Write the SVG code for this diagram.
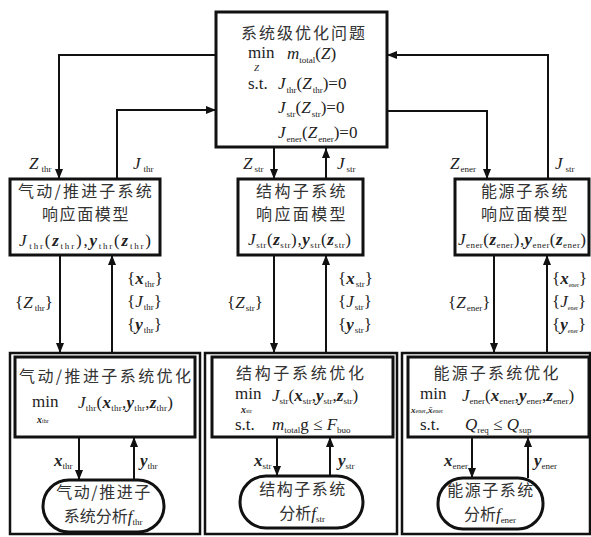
<svg xmlns="http://www.w3.org/2000/svg" width="591" height="537" viewBox="0 0 591 537">
<defs>
<marker id="ah" markerWidth="10" markerHeight="8" refX="10" refY="4" orient="auto" markerUnits="userSpaceOnUse"><path d="M0,0 L10,4 L0,8 Z" fill="#111"/></marker>
<style>
.box{fill:#fff;stroke:#111;stroke-width:3}
.frame{fill:none;stroke:#111;stroke-width:2.5}
.line{fill:none;stroke:#111;stroke-width:2}
.cn{font-family:"Noto Sans CJK SC",sans-serif;font-size:16px;fill:#333}
.m{font-family:"Liberation Serif",serif;font-size:17px;fill:#222}
.i{font-style:italic}
.b{font-weight:bold;font-style:italic}
.s{font-size:9px;font-style:normal;font-weight:normal}
.t{font-size:6px;font-style:normal;font-weight:normal}
</style>
</defs>
<rect x="0" y="0" width="591" height="537" fill="#fff"/>

<g id="frames">
<rect class="frame" x="10" y="353" width="190" height="181"/>
<rect class="frame" x="205" y="353" width="192" height="181"/>
<rect class="frame" x="402" y="353" width="188" height="181"/>
</g>

<g id="connectors">
<polyline class="line" points="216,55 59,55 59,179" marker-end="url(#ah)"/>
<polyline class="line" points="117,179 117,110 216,110" marker-end="url(#ah)"/>
<line class="line" x1="274" y1="148" x2="274" y2="179" marker-end="url(#ah)"/>
<line class="line" x1="326" y1="179" x2="326" y2="148" marker-end="url(#ah)"/>
<polyline class="line" points="387,111 487,111 487,179" marker-end="url(#ah)"/>
<polyline class="line" points="548,179 548,55 387,55" marker-end="url(#ah)"/>
<line class="line" x1="60" y1="255" x2="60" y2="353" marker-end="url(#ah)"/>
<line class="line" x1="112" y1="353" x2="112" y2="255" marker-end="url(#ah)"/>
<line class="line" x1="274" y1="255" x2="274" y2="353" marker-end="url(#ah)"/>
<line class="line" x1="326" y1="353" x2="326" y2="255" marker-end="url(#ah)"/>
<line class="line" x1="494" y1="255" x2="494" y2="353" marker-end="url(#ah)"/>
<line class="line" x1="547" y1="353" x2="547" y2="255" marker-end="url(#ah)"/>
<line class="line" x1="79" y1="437" x2="79" y2="480" marker-end="url(#ah)"/>
<line class="line" x1="134" y1="480" x2="134" y2="437" marker-end="url(#ah)"/>
<line class="line" x1="277" y1="437" x2="277" y2="476" marker-end="url(#ah)"/>
<line class="line" x1="330" y1="476" x2="330" y2="437" marker-end="url(#ah)"/>
<line class="line" x1="472" y1="437" x2="472" y2="478" marker-end="url(#ah)"/>
<line class="line" x1="528" y1="478" x2="528" y2="437" marker-end="url(#ah)"/>
</g>

<g id="labels">
<text class="m" x="29" y="169" font-size="16"><tspan class="i">Z</tspan><tspan class="s" dx="3" dy="3">thr</tspan></text>
<text class="m" x="133" y="169" font-size="16"><tspan class="i">J</tspan><tspan class="s" dx="3" dy="3">thr</tspan></text>
<text class="m" x="243" y="169" font-size="16"><tspan class="i">Z</tspan><tspan class="s" dx="2" dy="3">str</tspan></text>
<text class="m" x="337" y="169" font-size="16"><tspan class="i">J</tspan><tspan class="s" dx="2" dy="3">str</tspan></text>
<text class="m" x="450" y="169" font-size="16"><tspan class="i">Z</tspan><tspan class="s" dx="1" dy="3">ener</tspan></text>
<text class="m" x="555" y="169" font-size="16"><tspan class="i">J</tspan><tspan class="s" dx="3" dy="3">str</tspan></text>

<text class="m" x="15" y="308" font-size="16">{<tspan class="i">Z</tspan><tspan class="s" dx="2" dy="3">thr</tspan><tspan dy="-3">}</tspan></text>
<text class="m" x="127" y="284" font-size="16">{<tspan class="b">x</tspan><tspan class="s" dx="1" dy="3">thr</tspan><tspan dy="-3">}</tspan></text>
<text class="m" x="127" y="307" font-size="16">{<tspan class="i">J</tspan><tspan class="s" dx="1" dy="3">thr</tspan><tspan dy="-3">}</tspan></text>
<text class="m" x="127" y="330" font-size="16">{<tspan class="b">y</tspan><tspan class="s" dx="1" dy="3">thr</tspan><tspan dy="-3">}</tspan></text>

<text class="m" x="227" y="308" font-size="16">{<tspan class="i">Z</tspan><tspan class="s" dx="1" dy="3">str</tspan><tspan dy="-3">}</tspan></text>
<text class="m" x="338" y="284" font-size="16">{<tspan class="b">x</tspan><tspan class="s" dx="1" dy="3">str</tspan><tspan dy="-3">}</tspan></text>
<text class="m" x="338" y="307" font-size="16">{<tspan class="i">J</tspan><tspan class="s" dx="1" dy="3">str</tspan><tspan dy="-3">}</tspan></text>
<text class="m" x="338" y="330" font-size="16">{<tspan class="b">y</tspan><tspan class="s" dx="1" dy="3">str</tspan><tspan dy="-3">}</tspan></text>

<text class="m" x="448" y="308" font-size="16">{<tspan class="i">Z</tspan><tspan class="s" dx="1" dy="3">ener</tspan><tspan dy="-3">}</tspan></text>
<text class="m" x="552" y="284" font-size="12">{<tspan class="b">x</tspan><tspan class="t" dy="3">ener</tspan><tspan dy="-3">}</tspan></text>
<text class="m" x="552" y="307" font-size="12">{<tspan class="i">J</tspan><tspan class="t" dy="3">ener</tspan><tspan dy="-3">}</tspan></text>
<text class="m" x="552" y="330" font-size="12">{<tspan class="b">y</tspan><tspan class="t" dy="3">ener</tspan><tspan dy="-3">}</tspan></text>

<text class="m" x="54" y="466" font-size="16"><tspan class="b">x</tspan><tspan class="s" dy="3">thr</tspan></text>
<text class="m" x="140" y="466" font-size="16"><tspan class="b">y</tspan><tspan class="s" dy="3">thr</tspan></text>
<text class="m" x="254" y="466" font-size="16"><tspan class="b">x</tspan><tspan class="s" dy="3">str</tspan></text>
<text class="m" x="338" y="466" font-size="16"><tspan class="b">y</tspan><tspan class="s" dy="3">str</tspan></text>
<text class="m" x="444" y="466" font-size="16"><tspan class="b">x</tspan><tspan class="s" dy="3">ener</tspan></text>
<text class="m" x="534" y="466" font-size="16"><tspan class="b">y</tspan><tspan class="s" dy="3">ener</tspan></text>
</g>

<g id="system">
<rect class="box" x="216" y="12" width="171" height="135"/>
<text class="cn" x="303" y="39" text-anchor="middle" font-size="17" textLength="124">系统级优化问题</text>
<text class="m" x="248" y="58">min<tspan class="i" x="254" y="71" font-size="9">Z</tspan><tspan x="287" y="59" class="i">m</tspan><tspan class="s" dy="4">total</tspan><tspan dy="-4">(</tspan><tspan class="i">Z</tspan>)</text>
<text class="m" x="248" y="89">s.t.<tspan x="278" class="i">J</tspan><tspan class="s" dx="1" dy="4">thr</tspan><tspan dy="-4">(</tspan><tspan class="i">Z</tspan><tspan class="s" dx="1" dy="4">thr</tspan><tspan dy="-4">)=0</tspan></text>
<text class="m" x="278" y="113"><tspan class="i">J</tspan><tspan class="s" dx="1" dy="4">str</tspan><tspan dy="-4">(</tspan><tspan class="i">Z</tspan><tspan class="s" dx="1" dy="4">str</tspan><tspan dy="-4">)=0</tspan></text>
<text class="m" x="278" y="138"><tspan class="i">J</tspan><tspan class="s" dx="1" dy="4">ener</tspan><tspan dy="-4">(</tspan><tspan class="i">Z</tspan><tspan class="s" dx="1" dy="4">ener</tspan><tspan dy="-4">)=0</tspan></text>
</g>

<g id="rsm-thr">
<rect class="box" x="10" y="179" width="150" height="76"/>
<text class="cn" text-anchor="middle"><tspan x="86" y="197" letter-spacing="2.2">气动/推进子系统</tspan><tspan x="86" y="220" letter-spacing="1.6">响应面模型</tspan></text>
<text class="m" x="19" y="246" font-size="16" textLength="132" lengthAdjust="spacing"><tspan class="i">J</tspan><tspan class="s" dx="1" dy="3">thr</tspan><tspan dy="-3">(</tspan><tspan class="b">z</tspan><tspan class="s" dy="3">thr</tspan><tspan dy="-3">),</tspan><tspan class="b">y</tspan><tspan class="s" dy="3">thr</tspan><tspan dy="-3">(</tspan><tspan class="b">z</tspan><tspan class="s" dy="3">thr</tspan><tspan dy="-3">)</tspan></text>
</g>

<g id="rsm-str">
<rect class="box" x="238" y="179" width="125" height="76"/>
<text class="cn" text-anchor="middle" letter-spacing="2.4"><tspan x="302" y="197">结构子系统</tspan><tspan x="302" y="220">响应面模型</tspan></text>
<text class="m" x="248" y="245" font-size="16" textLength="103" lengthAdjust="spacing"><tspan class="i">J</tspan><tspan class="s" dy="3">str</tspan><tspan dy="-3">(</tspan><tspan class="b">z</tspan><tspan class="s" dy="3">str</tspan><tspan dy="-3">),</tspan><tspan class="b">y</tspan><tspan class="s" dy="3">str</tspan><tspan dy="-3">(</tspan><tspan class="b">z</tspan><tspan class="s" dy="3">str</tspan><tspan dy="-3">)</tspan></text>
</g>

<g id="rsm-ener">
<rect class="box" x="455" y="179" width="134" height="76"/>
<text class="cn" text-anchor="middle" letter-spacing="1.6"><tspan x="525" y="197">能源子系统</tspan><tspan x="525" y="220">响应面模型</tspan></text>
<text class="m" x="458" y="245" font-size="16" textLength="128" lengthAdjust="spacing"><tspan class="i">J</tspan><tspan class="s" dy="3">ener</tspan><tspan dy="-3">(</tspan><tspan class="b">z</tspan><tspan class="s" dy="3">ener</tspan><tspan dy="-3">),</tspan><tspan class="b">y</tspan><tspan class="s" dy="3">ener</tspan><tspan dy="-3">(</tspan><tspan class="b">z</tspan><tspan class="s" dy="3">ener</tspan><tspan dy="-3">)</tspan></text>
</g>

<g id="opt-thr">
<rect class="box" x="15" y="357" width="180" height="80"/>
<text class="cn" x="105" y="382" text-anchor="middle" font-size="17" textLength="172">气动/推进子系统优化</text>
<text class="m" x="32" y="407">min<tspan x="37" y="423" font-size="10" class="b">x</tspan><tspan class="t">thr</tspan></text>
<text class="m" x="78" y="408" font-size="16" textLength="95" lengthAdjust="spacing"><tspan class="i">J</tspan><tspan class="s" dy="3">thr</tspan><tspan dy="-3">(</tspan><tspan class="b">x</tspan><tspan class="s" dy="3">thr</tspan><tspan dy="-3">,</tspan><tspan class="b">y</tspan><tspan class="s" dy="3">thr</tspan><tspan dy="-3">,</tspan><tspan class="b">z</tspan><tspan class="s" dy="3">thr</tspan><tspan dy="-3">)</tspan></text>
</g>

<g id="opt-str">
<rect class="box" x="212" y="357" width="181" height="80"/>
<text class="cn" x="300" y="379" text-anchor="middle" font-size="17" textLength="128">结构子系统优化</text>
<text class="m" x="235" y="399" font-size="16">min<tspan x="241" y="413" font-size="10" class="b">x</tspan><tspan class="t">str</tspan><tspan x="272" y="401" class="i">J</tspan><tspan class="s" dy="3">str</tspan><tspan dy="-3">(</tspan><tspan class="b">x</tspan><tspan class="s" dy="3">str</tspan><tspan dy="-3">,</tspan><tspan class="b">y</tspan><tspan class="s" dy="3">str</tspan><tspan dy="-3">,</tspan><tspan class="b">z</tspan><tspan class="s" dy="3">str</tspan><tspan dy="-3">)</tspan></text>
<text class="m" x="235" y="430" font-size="16">s.t.<tspan x="272" class="i">m</tspan><tspan class="s" dy="3">total</tspan><tspan dy="-3">g ≤ </tspan><tspan class="i">F</tspan><tspan class="s" dy="3">buo</tspan></text>
</g>

<g id="opt-ener">
<rect class="box" x="408" y="357" width="181" height="80"/>
<text class="cn" x="496" y="379" text-anchor="middle" font-size="17" textLength="125">能源子系统优化</text>
<text class="m" x="420" y="399" font-size="16">min<tspan x="411" y="413" font-size="9" class="b">x</tspan><tspan class="t">ener</tspan><tspan font-size="9">,</tspan><tspan font-size="9" class="b">x̄</tspan><tspan class="t">ener</tspan><tspan x="462" y="401" class="i">J</tspan><tspan class="s" dy="3">ener</tspan><tspan dy="-3">(</tspan><tspan class="b">x</tspan><tspan class="s" dy="3">ener</tspan><tspan dy="-3">,</tspan><tspan class="b">y</tspan><tspan class="s" dy="3">ener</tspan><tspan dy="-3">,</tspan><tspan class="b">z</tspan><tspan class="s" dy="3">ener</tspan><tspan dy="-3">)</tspan></text>
<text class="m" x="420" y="430" font-size="16">s.t.<tspan x="465" class="i">Q</tspan><tspan class="s" dy="3">req</tspan><tspan dy="-3"> ≤ </tspan><tspan class="i">Q</tspan><tspan class="s" dy="3">sup</tspan></text>
</g>

<g id="ana-thr">
<rect class="box" x="43" y="480" width="121" height="52" rx="26" ry="26" stroke-width="2"/>
<text class="cn" text-anchor="middle"><tspan x="104" y="498" letter-spacing="1.5">气动/推进子</tspan><tspan x="103" y="522">系统分析</tspan><tspan class="m i">f</tspan><tspan class="m s" dy="3">thr</tspan></text>
</g>

<g id="ana-str">
<rect class="box" x="240" y="476" width="123" height="52" rx="26" ry="26" stroke-width="2"/>
<text class="cn" text-anchor="middle"><tspan x="303" y="495" letter-spacing="1.5">结构子系统</tspan><tspan x="302" y="519">分析</tspan><tspan class="m i">f</tspan><tspan class="m s" dy="3">str</tspan></text>
</g>

<g id="ana-ener">
<rect class="box" x="438" y="478" width="105" height="51" rx="25" ry="25" stroke-width="2"/>
<text class="cn" text-anchor="middle"><tspan x="491" y="496" letter-spacing="1.5">能源子系统</tspan><tspan x="490" y="520">分析</tspan><tspan class="m i">f</tspan><tspan class="m s" dy="3">ener</tspan></text>
</g>
</svg>
